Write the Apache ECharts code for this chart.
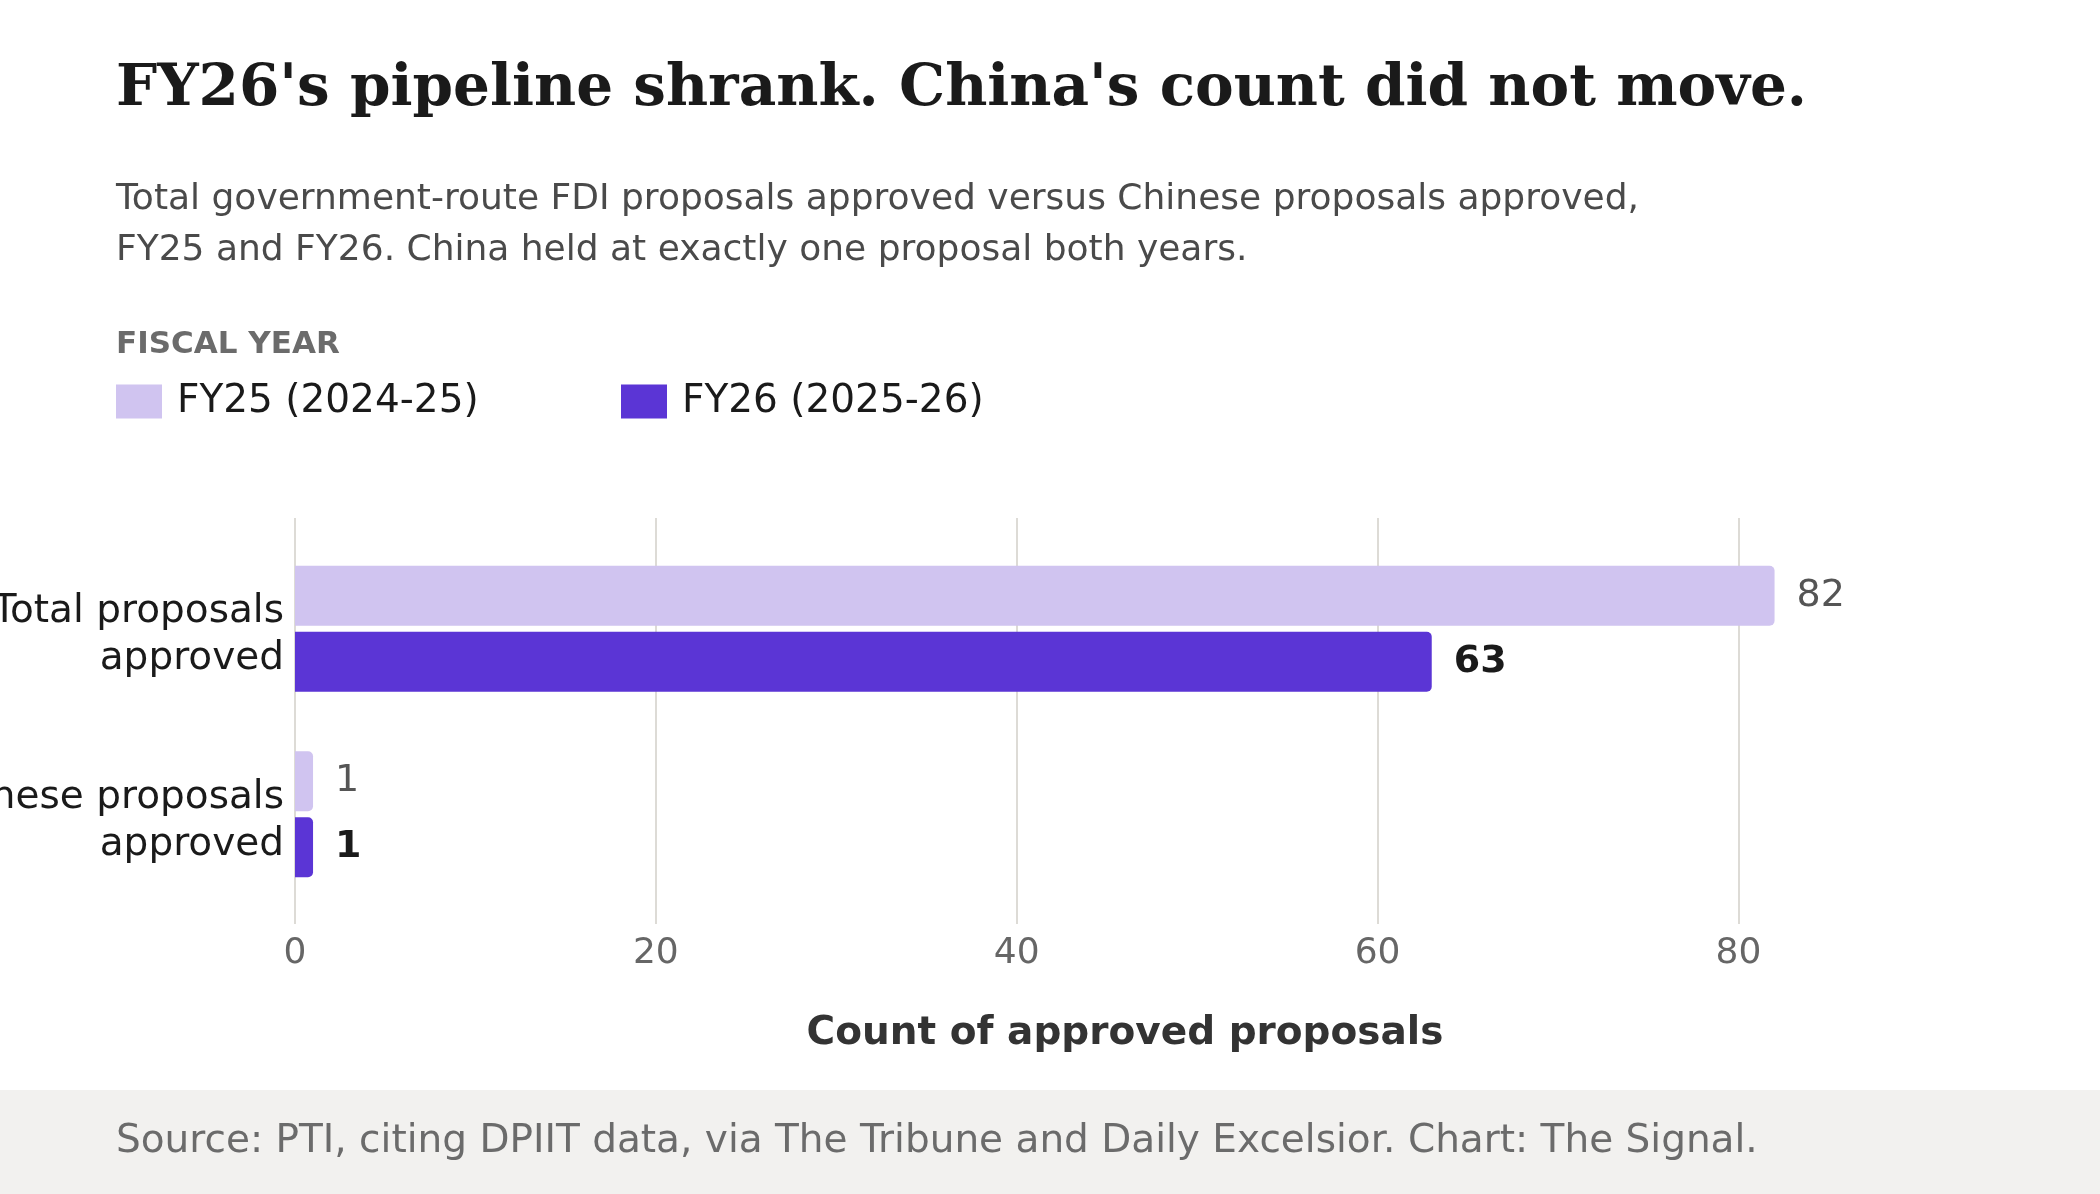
<!DOCTYPE html>
<html>
<head>
<meta charset="utf-8">
<title>FY26 pipeline</title>
<script src="https://cdn.jsdelivr.net/npm/echarts@6/dist/echarts.min.js"></script>
<style>
html,body{margin:0;padding:0;background:#fff;}
#chart{width:2100px;height:1194px;}
</style>
</head>
<body>
<div id="chart"></div>
<script>
// data
var categories = ['Total proposals\napproved', 'Chinese proposals\napproved'];
var seriesNames = ['FY25 (2024-25)', 'FY26 (2025-26)'];
var fy25 = [82, 1];
var fy26 = [63, 1];
var xTicks = [0, 20, 40, 60, 80];

var SANS = 'DejaVu Sans';
var SERIF = 'DejaVu Serif';
var xMax = 92;

var chart = echarts.init(document.getElementById('chart'));

var option = {
	backgroundColor: '#ffffff',
	animation: false,
	title: [
		{
			text: "FY26's pipeline shrank. China's count did not move.",
			left: 116, top: 61, padding: 0,
			textStyle: {fontFamily: SERIF, fontWeight: 'bold', fontSize: 58, color: '#1a1a1a'}
		},
		{
			text: 'Total government-route FDI proposals approved versus Chinese proposals approved,\nFY25 and FY26. China held at exactly one proposal both years.',
			left: 116, top: 174, padding: 0,
			textStyle: {fontFamily: SANS, fontWeight: 'normal', fontSize: 36, lineHeight: 51, color: '#4a4a4a'}
		},
		{
			text: 'FISCAL YEAR',
			left: 116, top: 329, padding: 0,
			textStyle: {fontFamily: SANS, fontWeight: 'bold', fontSize: 31, color: '#6b6b6b'}
		},
		{
			text: 'Source: PTI, citing DPIIT data, via The Tribune and Daily Excelsior. Chart: The Signal.',
			left: 116, top: 1122, padding: 0,
			textStyle: {fontFamily: SANS, fontWeight: 'normal', fontSize: 39, color: '#6b6b6b'}
		}
	],
	graphic: [
		{type: 'rect', left: 0, top: 1090, z: -10, shape: {width: 2100, height: 104}, style: {fill: '#f2f1ef'}}
	],
	legend: [
		{
			data: [seriesNames[0]], left: 116, top: 382, padding: 0,
			itemWidth: 46, itemHeight: 34, icon: 'rect',
			textStyle: {fontFamily: SANS, fontSize: 39, color: '#1a1a1a', padding: [0, 0, 0, 10]}
		},
		{
			data: [seriesNames[1]], left: 621, top: 382, padding: 0,
			itemWidth: 46, itemHeight: 34, icon: 'rect',
			textStyle: {fontFamily: SANS, fontSize: 39, color: '#1a1a1a', padding: [0, 0, 0, 10]}
		}
	],
	grid: [
		// gridlines + tick labels
		{left: 295, right: 145, top: 518, height: 406, outerBoundsMode: 'none', containLabel: false},
		// bars
		{left: 295, right: 145, top: 536, height: 371, outerBoundsMode: 'none', containLabel: false}
	],
	xAxis: [
		{
			gridIndex: 0, type: 'value', min: 0, max: xMax, interval: 20,
			name: 'Count of approved proposals', nameLocation: 'middle', nameGap: 90,
			nameTextStyle: {fontFamily: SANS, fontWeight: 'bold', fontSize: 39, color: '#333333'},
			axisLine: {show: false}, axisTick: {show: false},
			axisLabel: {
				fontFamily: SANS, fontSize: 36, color: '#666666', margin: 12,
				showMaxLabel: false,
				formatter: function (v) { return xTicks.indexOf(v) >= 0 ? String(v) : ''; }
			},
			splitLine: {show: true, showMaxLine: false, lineStyle: {color: '#dddbd6', width: 2}}
		},
		{
			gridIndex: 1, type: 'value', min: 0, max: xMax, interval: 20,
			axisLine: {show: false}, axisTick: {show: false}, axisLabel: {show: false}, splitLine: {show: false}
		}
	],
	yAxis: [
		{gridIndex: 0, type: 'category', data: categories, show: false},
		{
			gridIndex: 1, type: 'category', data: categories, inverse: true,
			axisLine: {show: false}, axisTick: {show: false},
			axisLabel: {
				margin: 11, align: 'right',
				// small spacer line on top nudges the two text lines down a bit
				formatter: function (v) {
					return '{s|}\n' + v.split('\n').map(function (l) { return '{t|' + l + '}'; }).join('\n');
				},
				rich: {
					s: {fontSize: 10, lineHeight: 14},
					t: {fontFamily: SANS, fontSize: 39, lineHeight: 47, color: '#1a1a1a', align: 'right'}
				}
			}
		}
	],
	series: [
		{
			name: seriesNames[0], type: 'bar', xAxisIndex: 1, yAxisIndex: 1,
			data: fy25, barWidth: 60, barGap: '10%',
			itemStyle: {color: '#d0c4f0', borderRadius: [0, 5, 5, 0]},
			label: {show: true, position: 'right', distance: 22, fontFamily: SANS, fontSize: 38, color: '#555555'}
		},
		{
			name: seriesNames[1], type: 'bar', xAxisIndex: 1, yAxisIndex: 1,
			data: fy26, barWidth: 60, barGap: '10%',
			itemStyle: {color: '#5b35d5', borderRadius: [0, 5, 5, 0]},
			label: {show: true, position: 'right', distance: 22, fontFamily: SANS, fontWeight: 'bold', fontSize: 38, color: '#1a1a1a'}
		}
	]
};

chart.setOption(option);
</script>
</body>
</html>
